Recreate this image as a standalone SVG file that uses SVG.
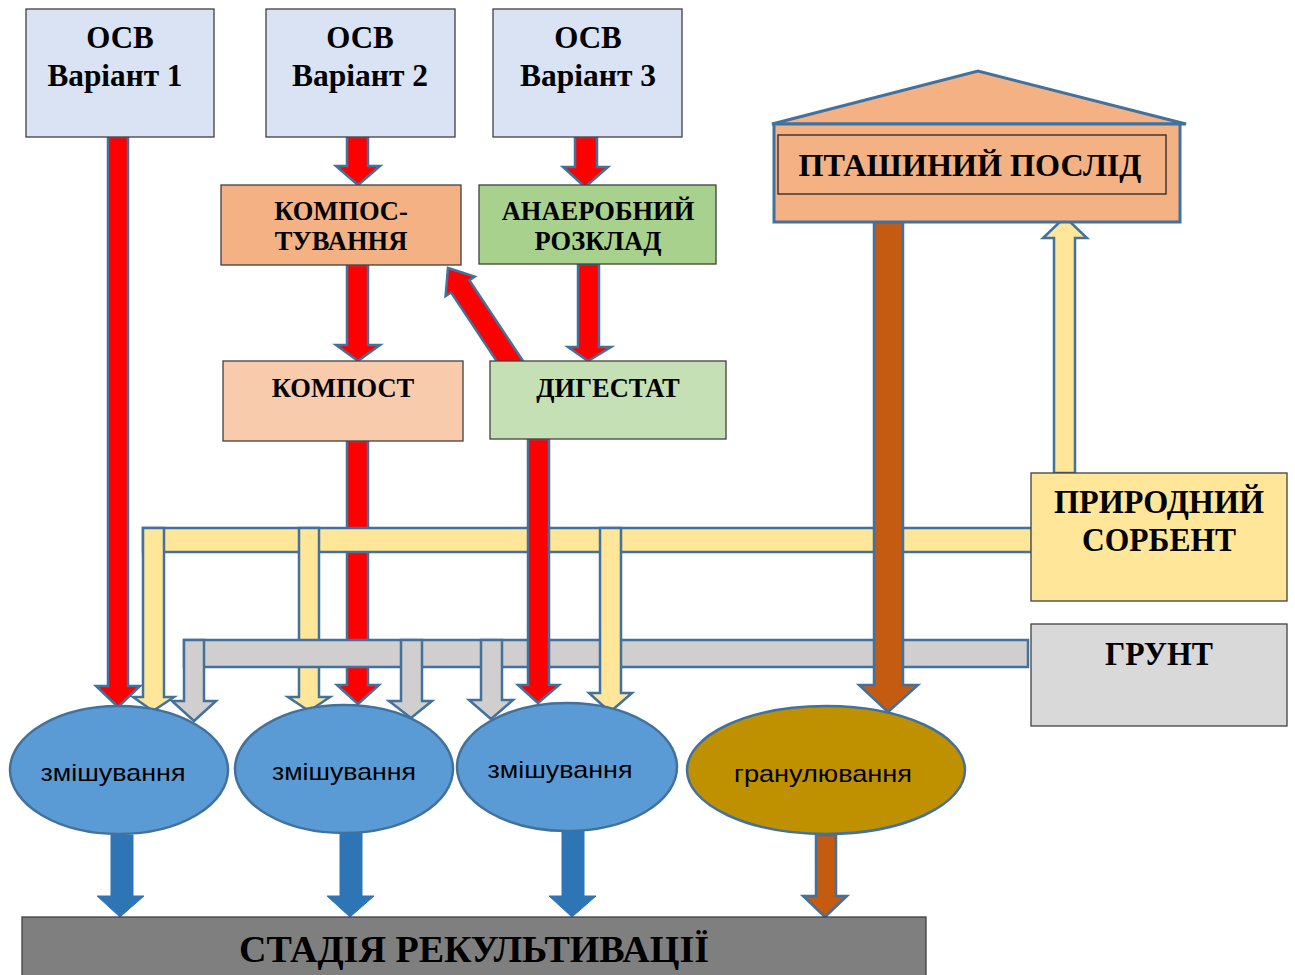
<svg xmlns="http://www.w3.org/2000/svg" width="1295" height="975" viewBox="0 0 1295 975">
<style>
.box{stroke:#404040;stroke-width:1.3}
.h{font-family:"Liberation Serif","Times New Roman",serif;font-weight:bold;fill:#000;text-anchor:middle}
.s{font-family:"Liberation Sans",Arial,sans-serif;fill:#000;text-anchor:middle;font-size:24px}
.ar{stroke:#41719c;stroke-width:2.5;stroke-linejoin:miter}
.red{fill:#ff0000}
.yel{fill:#ffe699}
.gry{fill:#d0cece}
.brn{fill:#c55a11}
.blu{fill:#2e75b6;stroke:#2e75b6;stroke-width:1}
.ell{stroke:#41719c;stroke-width:2.5}
</style>
<rect width="1295" height="975" fill="#fff"/>
<g id="connectors">
  <path class="ar red" d="M108,137 H128 V686 H140 L118,707 L96,686 H108 Z"/>
  <path class="ar red" d="M347,137 H368 V166 H380 L358,185 L336,166 H347 Z"/>
  <path class="ar red" d="M575,137 H597 V167 H608 L585,187 L563,167 H575 Z"/>
  <path class="ar red" d="M347,265 H368 V345 H380 L358,361 L336,345 H347 Z"/>
  <path class="ar red" d="M578,264 H599 V347 H611 L588,361 L568,347 H578 Z"/>
  <path class="ar red" transform="translate(448,268) rotate(-33.6)" d="M0,0 L17.5,22 H11 V118 H-11 V22 H-17.5 Z"/>
  <path class="ar red" d="M347,441 H368 V685 H379 L358,704 L337,685 H347 Z"/>
  <rect class="ar yel" x="143" y="528" width="889" height="24"/>
  <path class="ar yel" d="M143,528 H164 V697 H174 L153,711 L133,697 H143 Z"/>
  <path class="ar yel" d="M299,528 H319 V697 H330 L309,711 L288,697 H299 Z"/>
  <rect class="ar gry" x="184" y="640" width="844" height="27"/>
  <path class="ar gry" d="M184,640 H204 V701 H216 L194,721 L172,701 H184 Z"/>
  <path class="ar gry" d="M401,640 H422 V701 H432 L411,718 L389,701 H401 Z"/>
  <path class="ar gry" d="M481,640 H502 V700 H513 L491,719 L469,700 H481 Z"/>
  <path class="ar yel" d="M600,528 H621 V693 H632 L610,712 L589,693 H600 Z"/>
  <path class="ar red" d="M528,439 H549 V685 H559 L538,703 L518,685 H528 Z"/>
  <path class="ar brn" d="M874,222 H903 V685 H918 L888,712 L859,685 H874 Z"/>
  <path class="ar yel" d="M1054,473 V238 H1043 L1065,217 L1087,238 H1075 V473 Z"/>
  <path class="blu" d="M111,835 H133 V896 H144 L120,917 L97,896 H111 Z"/>
  <path class="blu" d="M340,833 H362 V896 H374 L350,917 L327,896 H340 Z"/>
  <path class="blu" d="M562,831 H584 V896 H596 L572,917 L549,896 H562 Z"/>
  <path class="ar brn" d="M816,835 H836 V896 H847 L825,917 L803,896 H816 Z"/>
</g>
<g id="osb1">
  <rect class="box" x="26" y="9" width="188" height="128" fill="#dae3f3"/>
  <text class="h" x="120" y="48" font-size="31">ОСВ</text>
  <text class="h" x="115" y="86" font-size="31" textLength="135" lengthAdjust="spacingAndGlyphs">Варіант 1</text>
</g>
<g id="osb2">
  <rect class="box" x="266" y="9" width="189" height="128" fill="#dae3f3"/>
  <text class="h" x="360" y="48" font-size="31">ОСВ</text>
  <text class="h" x="360" y="86" font-size="31" textLength="136" lengthAdjust="spacingAndGlyphs">Варіант 2</text>
</g>
<g id="osb3">
  <rect class="box" x="493" y="9" width="189" height="128" fill="#dae3f3"/>
  <text class="h" x="588" y="48" font-size="31">ОСВ</text>
  <text class="h" x="588" y="86" font-size="31" textLength="136" lengthAdjust="spacingAndGlyphs">Варіант 3</text>
</g>
<g id="composting">
  <rect class="box" x="221" y="185" width="240" height="80" fill="#f4b183"/>
  <text class="h" x="341" y="220" font-size="26.5">КОМПОС-</text>
  <text class="h" x="341" y="250" font-size="26.5">ТУВАННЯ</text>
</g>
<g id="anaerobic">
  <rect class="box" x="479" y="185" width="237" height="79" fill="#a9d18e"/>
  <text class="h" x="598" y="220" font-size="26.5">АНАЕРОБНИЙ</text>
  <text class="h" x="598" y="250" font-size="26.5">РОЗКЛАД</text>
</g>
<g id="compost">
  <rect class="box" x="223" y="361" width="240" height="80" fill="#f8cbad"/>
  <text class="h" x="343" y="397" font-size="26.5">КОМПОСТ</text>
</g>
<g id="digestate">
  <rect class="box" x="490" y="361" width="236" height="78" fill="#c5e0b4"/>
  <text class="h" x="608" y="397" font-size="26.5">ДИГЕСТАТ</text>
</g>
<g id="manure">
  <polygon points="772,124 978,71 1186,124" fill="#f4b183" stroke="#41719c" stroke-width="3" stroke-linejoin="miter"/>
  <rect x="774" y="124" width="406" height="98" fill="#f4b183" stroke="#41719c" stroke-width="3"/>
  <rect x="778" y="135" width="388" height="59" fill="none" stroke="#262626" stroke-width="1.3"/>
  <text class="h" x="970" y="176" font-size="32" textLength="343" lengthAdjust="spacingAndGlyphs">ПТАШИНИЙ ПОСЛІД</text>
</g>
<g id="sorbent">
  <rect class="box" x="1031" y="473" width="256" height="128" fill="#ffe699"/>
  <text class="h" x="1159" y="513" font-size="33" textLength="210" lengthAdjust="spacingAndGlyphs">ПРИРОДНИЙ</text>
  <text class="h" x="1159" y="551" font-size="33" textLength="154" lengthAdjust="spacingAndGlyphs">СОРБЕНТ</text>
</g>
<g id="soil">
  <rect class="box" x="1031" y="624" width="256" height="102" fill="#d9d9d9"/>
  <text class="h" x="1159" y="665" font-size="33" textLength="108" lengthAdjust="spacingAndGlyphs">ГРУНТ</text>
</g>
<g id="mix1">
  <ellipse class="ell" cx="119" cy="770" rx="109" ry="64" fill="#5b9bd5"/>
  <text class="s" x="113" y="781" textLength="145" lengthAdjust="spacingAndGlyphs">змішування</text>
</g>
<g id="mix2">
  <ellipse class="ell" cx="344" cy="769" rx="109" ry="64" fill="#5b9bd5"/>
  <text class="s" x="344" y="780" textLength="144" lengthAdjust="spacingAndGlyphs">змішування</text>
</g>
<g id="mix3">
  <ellipse class="ell" cx="567" cy="767" rx="110" ry="64" fill="#5b9bd5"/>
  <text class="s" x="560" y="778" textLength="145" lengthAdjust="spacingAndGlyphs">змішування</text>
</g>
<g id="granulation">
  <ellipse class="ell" cx="826" cy="770" rx="139" ry="64" fill="#bf9000"/>
  <text class="s" x="823" y="782" textLength="178" lengthAdjust="spacingAndGlyphs">гранулювання</text>
</g>
<g id="recultivation">
  <rect class="box" x="22" y="917" width="904" height="70" fill="#7f7f7f"/>
  <text class="h" x="474" y="962" font-size="38" textLength="470" lengthAdjust="spacingAndGlyphs">СТАДІЯ РЕКУЛЬТИВАЦІЇ</text>
</g>
</svg>
